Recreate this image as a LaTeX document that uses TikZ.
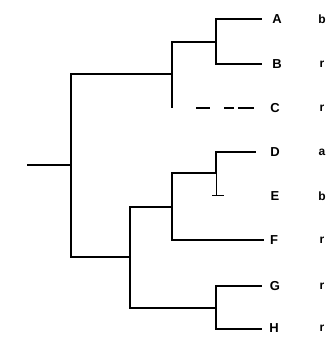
\documentclass[tikz,border=0pt]{standalone}
\usepackage{fontspec}
\setmainfont{Liberation Sans}
\begin{document}
\begin{tikzpicture}[x=1pt,y=-1pt,
  edge/.style={line width=1.3pt,black},
  leaf/.style={font=\bfseries\fontsize{13}{14}\selectfont,inner sep=0pt,anchor=center},
  tag/.style={font=\bfseries\fontsize{12}{13}\selectfont,inner sep=0pt,anchor=center}]
\useasboundingbox (0,0) rectangle (328,339);
% junctions
\coordinate (root) at (27,165);
\coordinate (n0) at (71,165);
\coordinate (n1) at (172,74);
\coordinate (n2) at (216,42);
\coordinate (n3) at (130,257);
\coordinate (n4) at (172,207);
\coordinate (n5) at (216,173);
\coordinate (n6) at (216,308);
% leaf ends
\coordinate (A) at (262,19);
\coordinate (B) at (262,64);
\coordinate (Cs) at (196,108);
\coordinate (C) at (262,108);
\coordinate (D) at (256,152);
\coordinate (E) at (224,195);
\coordinate (F) at (264,240);
\coordinate (G) at (262,286);
\coordinate (H) at (262,329);
% edges
\draw[edge] (root) -- (n0);
\draw[edge] (n0) |- (n1);
\draw[edge] (n0) |- (n3);
\draw[edge] (n1) |- (n2);
\draw[edge] (n1) -- (n1 |- C);
\draw[edge,dash pattern=on 14pt off 14pt on 10pt off 4pt on 16pt] (Cs) -- (C);
\draw[edge] (n2) |- (A);
\draw[edge] (n2) |- (B);
\draw[edge] (n3) |- (n4);
\draw[edge] (n3) |- (n6);
\draw[edge] (n4) |- (n5);
\draw[edge] (n4) |- (F);
\draw[edge] (n5) |- (D);
\draw[edge,line width=0.8pt] (n5) |- (E);
\draw[edge,line width=0.8pt] ([xshift=-4pt]n5 |- E) -- (E);
\draw[edge] (n6) |- (G);
\draw[edge] (n6) |- (H);
% labels
\node[leaf] (lA) at (277,19) {A};
\node[leaf] (lB) at (277,64) {B};
\node[leaf] (lC) at (275,108) {C};
\node[leaf] (lD) at (275,152) {D};
\node[leaf] (lE) at (275,196) {E};
\node[leaf] (lF) at (274,240) {F};
\node[leaf] (lG) at (275,286) {G};
\node[leaf] (lH) at (274,328) {H};
\node[tag] (tA) at (322,19) {b};
\node[tag] (tB) at (322,64) {r};
\node[tag] (tC) at (322,108) {r};
\node[tag] (tD) at (322,152) {a};
\node[tag] (tE) at (322,196) {b};
\node[tag] (tF) at (322,240) {r};
\node[tag] (tG) at (322,286) {r};
\node[tag] (tH) at (322,328) {r};
\end{tikzpicture}
\end{document}
